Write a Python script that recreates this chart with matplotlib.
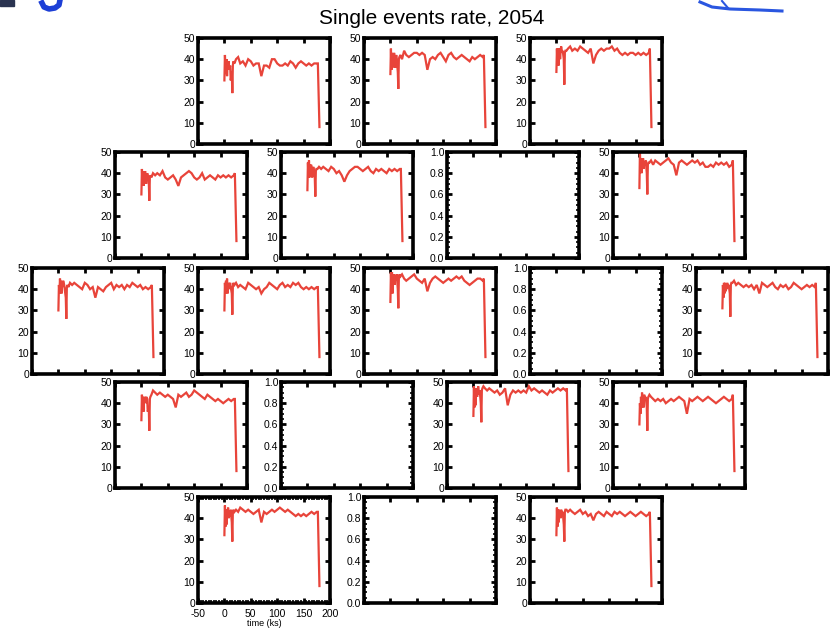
import matplotlib
matplotlib.use("Agg")
import matplotlib.pyplot as plt
from matplotlib.ticker import MultipleLocator
from matplotlib.lines import Line2D
from matplotlib.patches import Rectangle

plt.rcParams['font.family'] = ['Liberation Sans', 'DejaVu Sans']

title = "Single events rate, 2054"
xlabel = "time (ks)"
x_ticks = [-50, 0, 50, 100, 150, 200]
y_ticks_data = [0, 10, 20, 30, 40, 50]
y_ticks_empty = [0.0, 0.2, 0.4, 0.6, 0.8, 1.0]

t = [0, 1, 2, 3, 4, 5, 6, 7, 8, 9, 11, 12, 14, 15, 16, 17, 19, 22, 26,
     30, 35, 40, 45, 50, 55, 60, 65, 70, 75, 80, 85, 90, 95, 100, 105, 110,
     115, 120, 125, 130, 135, 140, 145, 150, 155, 160, 165, 170, 175, 177, 180]

A = [30, 42, 36, 33, 40, 32, 38, 36, 39, 35, 37, 30, 34, 24, 37, 39, 38, 40, 41,
     38, 39, 37, 40, 39, 37, 38, 38, 32, 37, 37, 36, 40, 40, 38, 37, 37, 38, 37, 39,
     38, 36, 38, 39, 38, 37, 38, 37, 38, 38, 38, 8]
B = [33, 45, 35, 43, 36, 42, 38, 43, 40, 36, 42, 40, 34, 26, 40, 41, 42, 40, 44,
     42, 41, 42, 43, 43, 42, 43, 42, 35, 40, 41, 40, 42, 43, 41, 39, 42, 43, 41, 40,
     41, 42, 41, 40, 39, 41, 40, 41, 42, 41, 42, 8]
C = [34, 45, 38, 45, 37, 44, 45, 40, 44, 46, 43, 44, 40, 28, 43, 44, 44, 45, 46,
     44, 45, 44, 46, 45, 44, 43, 45, 38, 42, 44, 45, 44, 45, 45, 46, 44, 45, 43, 42,
     43, 42, 43, 43, 42, 43, 42, 43, 42, 43, 45, 8]
D = [30, 42, 35, 41, 34, 40, 36, 41, 38, 35, 40, 39, 36, 27, 38, 39, 38, 40, 39,
     40, 39, 41, 38, 37, 38, 39, 37, 34, 38, 39, 40, 41, 40, 38, 37, 38, 40, 37, 38,
     39, 38, 37, 39, 38, 39, 38, 39, 38, 39, 40, 8]
E = [32, 45, 38, 46, 38, 44, 40, 44, 42, 38, 43, 42, 38, 29, 41, 42, 42, 43, 42,
     43, 42, 41, 43, 42, 40, 41, 39, 36, 39, 41, 42, 43, 43, 42, 41, 42, 43, 41, 40,
     42, 41, 42, 41, 40, 42, 41, 42, 41, 42, 42, 8]
F = [33, 50, 42, 47, 40, 46, 44, 47, 42, 45, 44, 46, 40, 30, 44, 45, 45, 46, 44,
     46, 45, 44, 45, 46, 47, 45, 44, 39, 45, 46, 45, 44, 45, 46, 45, 46, 44, 45, 43,
     43, 44, 43, 45, 44, 45, 44, 45, 43, 44, 46, 8]
G = [30, 42, 38, 45, 40, 44, 38, 43, 41, 44, 42, 40, 36, 26, 41, 42, 41, 43, 42,
     43, 42, 41, 40, 43, 42, 40, 41, 36, 41, 40, 39, 41, 42, 43, 40, 42, 41, 42, 40,
     42, 41, 43, 42, 41, 42, 40, 41, 40, 41, 42, 8]
H = [30, 43, 38, 44, 39, 45, 38, 43, 40, 42, 43, 41, 38, 28, 41, 43, 42, 43, 41,
     42, 41, 40, 43, 42, 41, 40, 41, 38, 40, 41, 43, 42, 41, 40, 42, 43, 41, 42, 41,
     43, 42, 43, 41, 40, 41, 40, 41, 40, 41, 41, 8]
I = [34, 48, 40, 48, 38, 46, 45, 47, 42, 46, 44, 47, 40, 31, 45, 47, 46, 47, 45,
     44, 45, 46, 47, 45, 44, 43, 45, 39, 43, 45, 46, 45, 44, 43, 44, 45, 44, 45, 46,
     45, 46, 44, 43, 42, 43, 44, 45, 45, 44, 45, 8]
J = [31, 42, 36, 43, 38, 43, 39, 42, 40, 43, 41, 42, 38, 27, 42, 43, 43, 44, 42,
     43, 42, 41, 42, 41, 42, 40, 42, 38, 43, 42, 41, 42, 43, 41, 40, 42, 41, 42, 40,
     41, 43, 42, 41, 40, 41, 42, 41, 42, 41, 43, 8]
K = [32, 44, 37, 43, 36, 42, 43, 42, 40, 43, 42, 36, 38, 27, 42, 43, 44, 46, 45,
     44, 45, 44, 43, 44, 43, 42, 38, 44, 43, 44, 45, 43, 44, 46, 45, 44, 43, 42, 44,
     43, 42, 41, 42, 41, 40, 41, 42, 41, 42, 42, 8]
L = [34, 48, 38, 47, 39, 46, 47, 43, 45, 48, 44, 46, 40, 31, 46, 47, 48, 47, 46,
     47, 46, 45, 46, 44, 45, 47, 39, 44, 46, 45, 46, 45, 46, 45, 48, 46, 47, 46, 45,
     46, 45, 44, 46, 45, 46, 47, 46, 47, 46, 47, 8]
M = [30, 40, 35, 43, 38, 45, 40, 43, 38, 44, 42, 43, 38, 27, 42, 43, 44, 43, 42,
     41, 42, 41, 42, 40, 41, 42, 41, 42, 43, 42, 41, 35, 42, 41, 42, 43, 42, 41, 42,
     43, 42, 41, 40, 41, 42, 43, 42, 41, 42, 44, 8]
N = [32, 46, 36, 44, 37, 44, 42, 45, 40, 43, 41, 44, 38, 29, 43, 44, 43, 44, 43,
     45, 44, 43, 44, 43, 42, 43, 44, 38, 43, 42, 43, 44, 43, 44, 45, 44, 43, 44, 43,
     42, 41, 42, 41, 42, 41, 42, 43, 42, 43, 43, 8]
O = [32, 45, 36, 44, 38, 44, 41, 43, 40, 44, 42, 43, 37, 29, 43, 44, 44, 43, 44,
     43, 42, 43, 44, 42, 43, 41, 42, 39, 42, 43, 42, 41, 43, 42, 41, 43, 42, 43, 42,
     41, 42, 43, 42, 41, 42, 43, 42, 41, 42, 43, 8]

W, Hpx = 832, 633
fig = plt.figure(figsize=(W / 100, Hpx / 100), dpi=100)
fig.text(432 / W, 1 - 18 / Hpx, title, ha='center', va='center', fontsize=15)


def fx(px):
    return px / W


def fy(py):
    return 1 - py / Hpx


# cut-off logo fragments at the top edge (decoration)
fig.add_artist(Rectangle((fx(0), fy(6)), 14 / W, 6 / Hpx, color='#2a3350',
                         transform=fig.transFigure))
fig.add_artist(Line2D([fx(p) for p in (42, 44, 49, 55, 59, 60)],
                      [fy(p) for p in (3, 7, 9, 8, 5, 0)],
                      color='#1d3fd6', lw=4, transform=fig.transFigure))
fig.add_artist(Line2D([fx(p) for p in (700, 712, 730, 760, 782)],
                      [fy(p) for p in (2, 7, 9, 10, 11)],
                      color='#2a56e0', lw=2.2, transform=fig.transFigure))
fig.add_artist(Line2D([fx(722), fx(728)], [fy(1), fy(8)],
                      color='#2a56e0', lw=1.5, transform=fig.transFigure))

row_tops = [38, 152, 268, 382, 497]
pw, ph = 132, 106
# (row, left px, series or None, show x labels)
panels = [
    (0, 198, A, False), (0, 364, B, False), (0, 530, C, False),
    (1, 115, D, False), (1, 281, E, False), (1, 447, None, False), (1, 613, F, False),
    (2, 32, G, False), (2, 198, H, False), (2, 364, I, False), (2, 530, None, False), (2, 696, J, False),
    (3, 115, K, False), (3, 281, None, False), (3, 447, L, False), (3, 613, M, False),
    (4, 198, N, True), (4, 364, None, False), (4, 530, O, False),
]

red = '#e8443a'
for row, left, ser, xlab in panels:
    top = row_tops[row]
    ax = fig.add_axes([left / W, 1 - (top + ph) / Hpx, pw / W, ph / Hpx])
    ax.set_xlim(-50, 200)
    ax.set_xticks(x_ticks)
    if ser is not None:
        ax.plot(t, ser, color=red, lw=1.6, solid_joinstyle='miter')
        ax.set_ylim(0, 50)
        ax.set_yticks(y_ticks_data)
        ax.set_yticklabels([str(v) for v in y_ticks_data])
    else:
        ax.set_ylim(0, 1)
        ax.set_yticks(y_ticks_empty)
        ax.set_yticklabels([f"{v:.1f}" for v in y_ticks_empty])
        ax.yaxis.set_minor_locator(MultipleLocator(0.05))
    if xlab:
        ax.xaxis.set_minor_locator(MultipleLocator(5))
        ax.set_xticklabels([str(v) for v in x_ticks])
        ax.set_xlabel(xlabel, fontsize=6.5, labelpad=0)
    else:
        ax.set_xticklabels([])
    for s in ax.spines.values():
        s.set_linewidth(2.6)
    ax.tick_params(which='major', direction='in', length=3.5, width=2,
                   top=True, right=True, labelsize=7.5, pad=2)
    ax.tick_params(axis='x', which='major', pad=4)
    ax.tick_params(which='minor', direction='in', length=2, width=1.2,
                   top=True, right=True)

fig.savefig('out.png', dpi=100)
